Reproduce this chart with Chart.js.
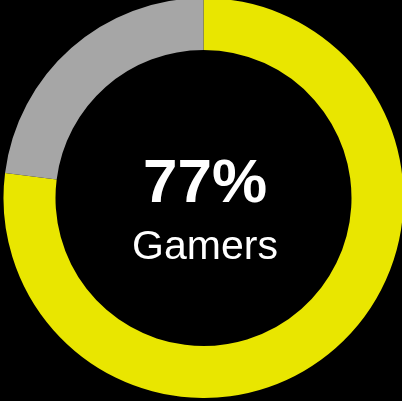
<!DOCTYPE html>
<html>
<head>
<meta charset="utf-8">
<script src="https://cdn.jsdelivr.net/npm/chart.js@4/dist/chart.umd.min.js"></script>
<style>
  html, body { margin: 0; padding: 0; background: #000; overflow: hidden; }
  body { width: 402px; height: 401px; position: relative; }
  #wrap { position: absolute; left: 0; top: -2px; width: 407px; height: 400px; }
</style>
</head>
<body>
<div id="wrap"><canvas id="donut"></canvas></div>
<script>
const labels = ['Gamers', 'Non-gamers'];
const shares = [77, 23];
const colors = ['#e9e600', '#a6a6a6'];
const caption = 'Gamers';

// text in the hole of the ring
const centerText = {
  id: 'centerText',
  afterDraw(chart) {
    const { ctx } = chart;
    const x = 205;
    ctx.save();
    ctx.fillStyle = '#fff';
    ctx.textAlign = 'center';
    ctx.textBaseline = 'alphabetic';
    ctx.font = 'bold 62px "Liberation Sans", Arial, sans-serif';
    ctx.fillText(shares[0] + '%', x, 203.5);
    ctx.font = '41px "Liberation Sans", Arial, sans-serif';
    ctx.fillText(caption, x, 261);
    ctx.restore();
  }
};

new Chart(document.getElementById('donut'), {
  type: 'doughnut',
  data: {
    labels,
    datasets: [{ data: shares, backgroundColor: colors, borderWidth: 0 }]
  },
  options: {
    responsive: true,
    maintainAspectRatio: false,
    animation: false,
    cutout: '74%',
    layout: { padding: 0 },
    plugins: { legend: { display: false }, tooltip: { enabled: false } }
  },
  plugins: [centerText]
});
</script>
</body>
</html>
